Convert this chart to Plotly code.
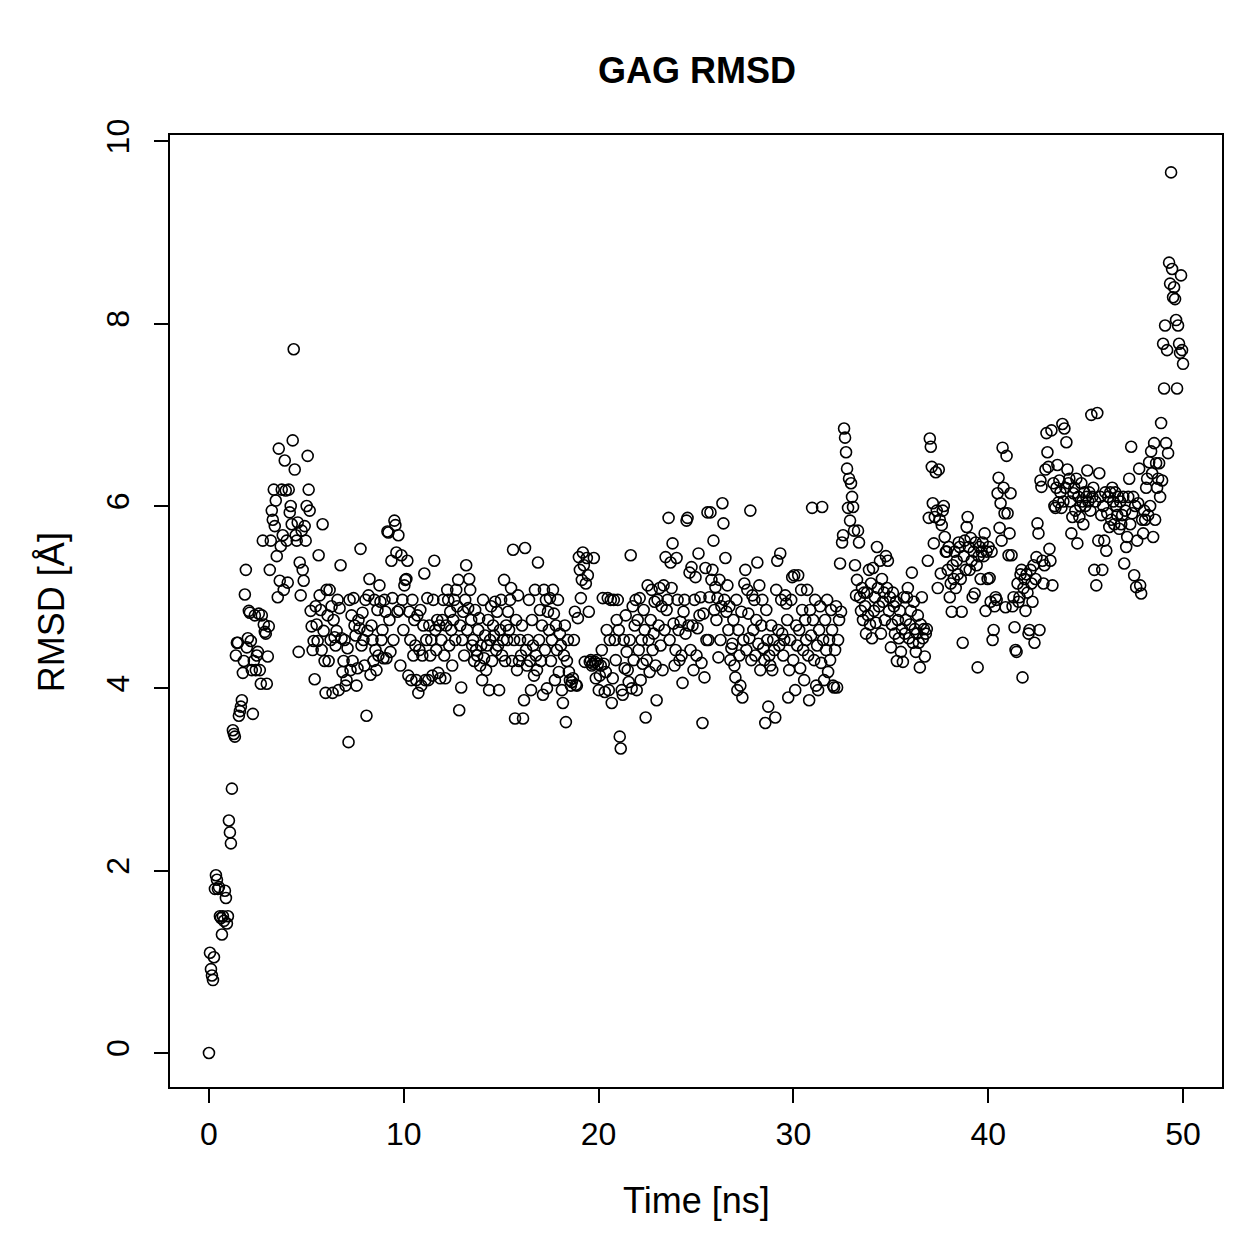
import numpy as np
import plotly.graph_objects as go

# RMSD values (Angstrom), in time order (0 -> 50 ns)
rmsd_0_10ns = [
    0, 1.1, 0.92, 0.85, 0.8, 1.05, 1.8, 1.95, 1.9, 1.8, 1.82, 1.5, 1.48, 1.3, 1.5, 1.45, 1.78, 1.7, 1.42, 1.5,
    2.55, 2.42, 2.3, 2.9, 3.54, 3.5, 3.47, 4.36, 4.5, 4.5, 3.7, 3.75, 3.8, 3.87, 4.17, 4.3, 5.03, 5.3, 4.45, 4.55,
    4.85, 4.83, 4.52, 4.2, 3.72, 4.3, 4.8, 4.2, 4.36, 4.4, 4.82, 4.2, 4.05, 4.8, 5.62, 4.7, 4.62, 4.6, 4.05, 4.35,
    4.68, 5.3, 5.62, 5.95, 5.85, 6.18, 5.78, 6.06, 5.45, 5.0, 6.63, 5.18, 5.56, 6.18, 5.68, 5.08, 6.5, 6.17, 5.62, 5.16,
    6.18, 5.93, 6.0, 5.8, 6.72, 7.72, 6.4, 5.68, 5.62, 5.82, 4.4, 5.38, 5.02, 5.73, 5.3, 5.18, 5.78, 5.62, 6.0, 6.55,
    6.18, 5.95, 4.85, 4.68, 4.42, 4.52, 4.1, 4.9, 4.7, 4.52, 5.46, 5.02, 4.86, 4.42, 5.8, 4.63, 4.3, 3.95, 5.08, 4.8,
    4.3, 5.08, 4.53, 4.9, 3.95, 4.75, 4.56, 4.47, 4.63, 4.97, 3.98, 4.88, 5.35, 4.55, 4.18, 4.3, 4.53, 4.03, 4.09, 4.44,
    3.41, 4.97, 4.2, 4.8, 4.3, 4.99, 4.69, 4.58, 4.03, 4.22, 4.75, 4.66, 5.53, 4.47, 4.83, 4.53, 4.25, 4.97, 3.7, 4.63,
    5.02, 5.2, 4.15, 4.69, 4.53, 4.3, 4.97, 4.42, 4.2, 4.86, 4.36, 5.13, 4.95, 4.53, 4.64, 4.33, 4.97, 4.84, 4.33, 5.72,
    5.71, 4.75, 4.4, 5.4, 4.99, 4.53, 5.84, 5.79, 5.49, 4.84, 5.68, 4.86, 4.25, 5.46, 4.97, 4.64, 5.13, 5.19, 5.2, 5.4,
]
rmsd_10_20ns = [
    4.14, 4.84, 4.53, 4.09, 4.97, 4.36, 4.75, 4.47, 4.09, 4.8, 3.95, 4.42, 4.86, 4.03, 4.36, 4.69, 5.26, 4.09, 4.53, 4.99,
    4.09, 4.69, 4.36, 4.53, 4.14, 4.97, 5.4, 4.64, 4.42, 4.75, 4.17, 4.69, 4.11, 4.53, 4.75, 4.97, 4.36, 4.11, 4.69, 5.08,
    4.97, 4.47, 4.84, 4.64, 4.25, 4.75, 4.97, 4.53, 5.08, 4.9, 5.19, 3.76, 4.69, 4.01, 4.53, 4.84, 4.36, 4.97, 5.35, 4.64,
    4.88, 5.2, 5.08, 4.75, 4.47, 4.53, 4.3, 4.86, 4.42, 4.36, 4.64, 4.77, 4.25, 4.47, 4.09, 4.97, 4.33, 4.58, 4.2, 4.47,
    4.75, 3.98, 4.53, 4.9, 4.3, 4.69, 4.58, 4.95, 4.42, 4.84, 4.47, 3.98, 4.64, 4.97, 4.36, 4.53, 5.19, 4.3, 4.69, 4.53,
    4.84, 4.64, 4.97, 5.1, 4.3, 5.52, 4.53, 3.67, 4.75, 4.2, 5.02, 4.3, 4.53, 4.36, 4.69, 3.67, 3.87, 5.54, 4.42, 4.25,
    4.53, 4.97, 4.3, 3.98, 4.75, 4.47, 4.14, 5.08, 4.36, 4.2, 5.38, 4.53, 4.86, 4.3, 4.69, 3.93, 5.08, 4.42, 4.97, 4.0,
    4.84, 4.64, 4.99, 4.3, 4.53, 5.08, 4.82, 4.09, 4.69, 4.42, 4.97, 4.18, 4.6, 4.47, 3.98, 3.84, 4.36, 4.69, 3.63, 4.3,
    4.53, 4.18, 4.09, 4.03, 4.07, 4.11, 4.53, 4.84, 4.04, 4.03, 4.77, 5.44, 5.3, 4.99, 5.19, 5.49, 5.35, 4.29, 5.15, 5.43,
    5.24, 4.84, 4.29, 4.31, 4.25, 4.27, 5.43, 4.29, 4.11, 4.31, 4.27, 3.98, 4.14, 4.25, 4.42, 4.99, 4.27, 3.96, 4.18, 4.64,
]
rmsd_20_30ns = [
    4.99, 3.98, 4.53, 4.97, 3.84, 4.11, 4.97, 4.53, 4.31, 4.75, 4.97, 4.64, 3.47, 3.34, 3.98, 3.93, 4.53, 4.22, 4.8, 4.4,
    4.2, 4.07, 4.53, 5.46, 4.0, 4.9, 4.31, 4.69, 4.97, 3.98, 4.75, 4.42, 4.99, 4.09, 4.53, 4.27, 4.86, 4.64, 3.68, 4.31,
    5.13, 4.53, 4.18, 4.75, 5.08, 4.42, 4.6, 4.95, 4.25, 3.87, 4.97, 4.69, 5.1, 4.47, 4.9, 4.2, 5.13, 4.64, 5.44, 4.86,
    4.97, 5.87, 4.53, 5.38, 5.1, 5.59, 4.71, 4.25, 4.42, 5.43, 4.97, 4.64, 4.31, 4.73, 4.36, 4.06, 4.84, 4.97, 4.6, 5.84,
    5.87, 4.69, 5.27, 4.42, 5.33, 4.69, 4.2, 4.97, 5.22, 4.36, 4.66, 5.48, 4.8, 5.0, 4.28, 3.62, 4.82, 4.12, 5.32, 4.53,
    5.93, 4.53, 5.0, 5.93, 5.19, 5.3, 5.62, 4.86, 5.11, 4.75, 4.99, 4.34, 5.19, 4.53, 4.9, 6.03, 5.81, 4.97, 5.43, 4.84,
    5.13, 4.64, 4.9, 4.31, 4.44, 4.49, 4.75, 4.25, 4.12, 4.97, 3.98, 4.64, 4.36, 4.03, 4.84, 3.9, 4.53, 5.15, 5.3, 4.42,
    5.08, 4.82, 4.55, 5.95, 4.31, 5.02, 4.64, 4.97, 4.36, 4.75, 5.38, 4.49, 5.13, 4.2, 4.69, 4.97, 4.44, 4.31, 3.62, 4.86,
    4.53, 3.8, 4.36, 4.25, 4.69, 4.2, 4.53, 4.42, 3.68, 5.08, 5.4, 4.64, 4.47, 5.48, 4.97, 4.6, 4.36, 4.53, 5.02, 4.93,
    4.75, 3.9, 4.2, 4.53, 4.97, 5.22, 4.31, 5.24, 3.98, 4.69, 4.47, 5.24, 4.64, 4.22, 5.08, 4.86, 4.42, 4.09, 4.75, 4.53,
]
rmsd_30_40ns = [
    5.08, 4.36, 3.87, 4.86, 4.58, 5.98, 4.75, 4.31, 4.97, 4.03, 4.47, 3.98, 4.64, 4.9, 4.28, 5.99, 4.53, 4.09, 4.75, 4.42,
    4.97, 4.18, 4.53, 4.31, 4.86, 4.64, 4.03, 4.01, 4.42, 4.9, 4.01, 4.53, 4.75, 5.37, 4.84, 5.6, 5.68, 6.85, 6.75, 6.59,
    6.41, 5.98, 6.3, 5.84, 6.25, 6.1, 5.99, 5.73, 5.35, 5.02, 5.19, 5.73, 5.6, 5.0, 4.85, 5.1, 4.75, 5.05, 4.9, 4.6,
    5.05, 4.8, 5.3, 4.7, 5.15, 4.55, 5.32, 4.85, 5.0, 4.72, 5.55, 5.1, 4.9, 5.4, 4.6, 5.2, 4.95, 5.05, 4.75, 5.45,
    5.1, 5.4, 4.85, 5.0, 4.45, 4.7, 5.05, 4.9, 4.6, 4.95, 4.3, 4.75, 4.55, 4.85, 4.4, 4.65, 4.29, 5.0, 4.6, 4.75,
    5.0, 5.1, 4.55, 4.7, 4.85, 5.27, 4.5, 4.95, 4.65, 4.4, 4.6, 4.8, 4.5, 4.23, 4.7, 5.0, 4.55, 4.65, 4.35, 4.6,
    4.65, 5.4, 5.87, 6.74, 6.65, 6.43, 6.03, 5.59, 5.88, 6.37, 5.95, 5.1, 6.4, 5.85, 5.26, 5.79, 5.95, 6.0, 5.66, 5.5,
    5.5, 5.3, 5.55, 5.0, 5.15, 4.84, 5.35, 5.2, 5.5, 5.1, 5.4, 5.25, 5.6, 5.55, 5.2, 4.84, 4.5, 5.45, 5.62, 5.3,
    5.77, 5.88, 5.55, 5.3, 5.65, 5.4, 5.0, 5.5, 5.04, 5.6, 5.35, 4.23, 5.45, 5.55, 5.2, 5.5, 5.6, 5.45, 5.7, 4.85,
    5.5, 5.2, 5.55, 5.21, 4.95, 5.5, 4.53, 4.64, 4.9, 5.0, 4.97, 6.14, 6.31, 5.76, 6.03, 5.62, 6.64, 6.2, 5.92, 4.89,
]
rmsd_40_50ns = [
    6.55, 5.92, 5.46, 5.7, 6.14, 5.46, 4.9, 5.0, 4.67, 4.42, 4.4, 5.15, 4.95, 5.0, 5.25, 5.3, 4.12, 5.1, 5.2, 4.85,
    5.25, 5.05, 4.6, 4.64, 5.3, 5.15, 4.95, 5.35, 4.5, 5.2, 5.44, 5.81, 5.7, 4.64, 6.28, 6.21, 5.4, 5.15, 5.35, 6.4,
    6.8, 6.59, 6.43, 5.53, 5.4, 6.83, 5.13, 6.25, 6.0, 5.98, 6.2, 6.45, 6.04, 6.28, 6.15, 5.98, 6.9, 6.05, 6.85, 6.2,
    6.7, 6.4, 6.25, 6.3, 6.05, 5.7, 5.88, 6.14, 6.2, 5.95, 6.3, 5.59, 6.1, 5.88, 6.0, 6.25, 6.05, 5.8, 6.15, 6.0,
    6.1, 6.39, 6.05, 6.15, 5.95, 7.0, 6.1, 6.2, 5.3, 6.05, 5.13, 7.02, 5.62, 6.36, 6.1, 5.9, 5.3, 6.0, 5.62, 6.15,
    5.51, 5.92, 6.1, 5.77, 6.15, 5.85, 6.2, 6.05, 5.8, 6.15, 6.0, 5.9, 6.1, 5.75, 6.05, 5.8, 5.9, 6.1, 5.37, 5.95,
    5.55, 5.66, 6.1, 6.3, 5.8, 6.65, 5.92, 6.1, 5.24, 6.0, 5.11, 5.62, 6.03, 6.41, 5.13, 5.04, 5.85, 5.7, 5.95, 5.85,
    6.2, 6.3, 5.9, 6.48, 6.0, 6.6, 6.36, 5.66, 6.69, 5.85, 6.47, 6.2, 6.3, 6.47, 6.1, 6.91, 6.28, 7.78, 7.29, 7.98,
    6.69, 7.71, 6.58, 8.67, 8.44, 9.66, 8.6, 8.29, 8.4, 8.27, 8.04, 7.29, 7.98, 7.78, 7.68, 8.53, 7.71, 7.56,
]

rmsd = rmsd_0_10ns + rmsd_10_20ns + rmsd_20_30ns + rmsd_30_40ns + rmsd_40_50ns
time_ns = np.linspace(0, 50, len(rmsd))  # regular sampling over the 50 ns run

x_ticks = [0, 10, 20, 30, 40, 50]
y_ticks = [0, 2, 4, 6, 8, 10]

title_text = "GAG RMSD"
x_label = "Time [ns]"
y_label = "RMSD [Å]"

FONT = "Liberation Sans, Arial, Helvetica, sans-serif"

fig = go.Figure()
fig.add_trace(go.Scatter(
    x=time_ns, y=rmsd, mode="markers",
    marker=dict(symbol="circle-open", size=11, color="black",
                line=dict(width=1.6, color="black")),
    hoverinfo="x+y", showlegend=False,
))

axis_common = dict(
    showgrid=False, zeroline=False,
    showline=True, linecolor="black", linewidth=2, mirror=True,
    ticks="outside", ticklen=14, tickwidth=2, tickcolor="black",
    tickfont=dict(family=FONT, size=32, color="black"),
)

fig.update_layout(
    width=1259, height=1259,
    margin=dict(l=170, r=37, t=135, b=172),
    paper_bgcolor="white", plot_bgcolor="white",
    xaxis=dict(range=[-2.0, 52.0], tickmode="array", tickvals=x_ticks,
               ticklabelstandoff=4, **axis_common),
    yaxis=dict(range=[-0.373, 10.07], tickmode="array", tickvals=y_ticks,
               tickangle=-90, ticklabelstandoff=12, **axis_common),
    annotations=[
        dict(text="<b>" + title_text + "</b>", x=0.501, y=1.068, xref="paper", yref="paper",
             showarrow=False, font=dict(family=FONT, size=36, color="black"),
             xanchor="center", yanchor="middle"),
        dict(text=x_label, x=0.5, y=-0.1187, xref="paper", yref="paper",
             showarrow=False, font=dict(family=FONT, size=36, color="black"),
             xanchor="center", yanchor="middle"),
        dict(text=y_label, x=-0.112, y=0.499, xref="paper", yref="paper",
             showarrow=False, textangle=-90, font=dict(family=FONT, size=36, color="black"),
             xanchor="center", yanchor="middle"),
    ],
)

fig.write_html("out.html")
